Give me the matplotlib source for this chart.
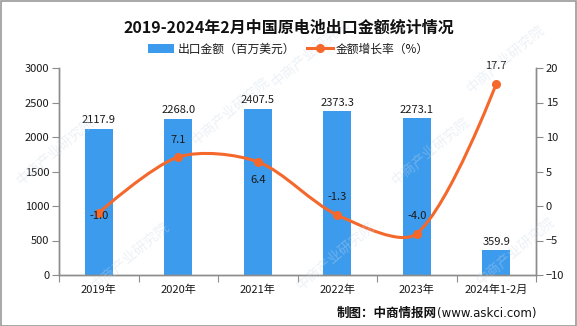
import numpy as np
import matplotlib
matplotlib.use("Agg")
import matplotlib.pyplot as plt
from matplotlib.path import Path
from matplotlib.patches import PathPatch, Patch, Rectangle
from matplotlib.lines import Line2D

plt.rcParams['font.family'] = ['Noto Sans CJK SC', 'DejaVu Sans']

# Data
categories = ["2019年", "2020年", "2021年", "2022年", "2023年", "2024年1-2月"]
export_value = [2117.9, 2268.0, 2407.5, 2373.3, 2273.1, 359.9]
growth_rate = [-1.0, 7.1, 6.4, -1.3, -4.0, 17.7]
left_ticks = [0, 500, 1000, 1500, 2000, 2500, 3000]
right_ticks = [-10, -5, 0, 5, 10, 15, 20]

title = "2019-2024年2月中国原电池出口金额统计情况"
bar_name = "出口金额（百万美元）"
line_name = "金额增长率（%）"
source = "制图：中商情报网"
source_url = "(www.askci.com)"
watermark = "中商产业研究院"

BLUE = "#3d9bed"
ORANGE = "#f5682c"
AXIS_GRAY = "#8c8c8c"
TEXT = "#1a1a1a"

W, H = 577, 326
fig = plt.figure(figsize=(W / 100, H / 100), dpi=100)
fig.patch.set_facecolor("white")

# figure border
fig.add_artist(Rectangle((0.5 / W, 0.5 / H), 1 - 1.5 / W, 1 - 1.5 / H,
                         transform=fig.transFigure, fill=False,
                         edgecolor="#9a9a9a", lw=1.2))

# faint watermark
for (wx, wy) in [(55, 150), (130, 255), (230, 110), (310, 52), (335, 255),
                 (430, 150), (505, 58), (515, 250)]:
    fig.text(wx / W, 1 - wy / H, watermark, rotation=40, fontsize=10,
             color="#c9d8e6", alpha=0.35, ha="center", va="center", zorder=0)

left, right, top, bottom = 59, 536, 68, 275
ax = fig.add_axes([left / W, 1 - bottom / H, (right - left) / W, (bottom - top) / H])
ax2 = ax.twinx()
ax.set_facecolor("none")

x = np.arange(len(categories))
ax.bar(x, export_value, width=0.35, color=BLUE, zorder=2)
ax.set_xlim(-0.5, len(categories) - 0.5)
ax.set_ylim(left_ticks[0], left_ticks[-1])
ax.set_yticks(left_ticks)
ax2.set_ylim(right_ticks[0], right_ticks[-1])
ax2.set_yticks(right_ticks)

for xi, v in zip(x, export_value):
    ax.annotate(f"{v:.1f}", (xi, v), xytext=(0, 2.5), textcoords="offset points",
                ha="center", va="bottom", fontsize=8, color=TEXT)

# x ticks on category boundaries, labels centered under bars
ax.set_xticks(np.arange(-0.5, len(categories), 1.0))
ax.set_xticklabels([])
ax.set_xticks(x, minor=True)
ax.set_xticklabels(categories, minor=True)
ax.tick_params(axis="x", which="major", direction="out", length=5, color=AXIS_GRAY)
ax.tick_params(axis="x", which="minor", length=0, pad=7, labelsize=8, labelcolor=TEXT)
ax.tick_params(axis="y", direction="out", length=5, color=AXIS_GRAY, pad=2,
               labelsize=8, labelcolor=TEXT)
ax2.tick_params(axis="y", direction="out", length=5, color=AXIS_GRAY, pad=2,
                labelsize=8, labelcolor=TEXT)

for a in (ax, ax2):
    a.spines["top"].set_visible(False)
    for sp in ("left", "right", "bottom"):
        a.spines[sp].set_color(AXIS_GRAY)
        a.spines[sp].set_linewidth(1.0)


def smooth_path(axis, xs, ys, s=0.3):
    """Bezier path through the points, control points built in display space."""
    pts = axis.transData.transform(np.column_stack([xs, ys]))
    n = len(pts)
    cp_next, cp_prev = [], []
    for i in range(n):
        p = pts[i]
        if i == 0 or i == n - 1:
            cp_next.append(p.copy())
            cp_prev.append(p.copy())
            continue
        prev, nxt = pts[i - 1], pts[i + 1]
        v = nxt - prev
        d0 = np.hypot(*(p - prev))
        d1 = np.hypot(*(nxt - p))
        r = d1 / (d0 + d1)
        cp_next.append(p + v * s * r)
        cp_prev.append(p - v * s * (1 - r))
    verts = [pts[0]]
    codes = [Path.MOVETO]
    for i in range(n - 1):
        verts += [cp_next[i], cp_prev[i + 1], pts[i + 1]]
        codes += [Path.CURVE4] * 3
    verts = axis.transData.inverted().transform(np.array(verts))
    return Path(verts, codes)


ax2.add_patch(PathPatch(smooth_path(ax2, x, growth_rate), fill=False,
                        edgecolor=ORANGE, lw=2.2, zorder=3, capstyle="round"))
ax2.plot(x, growth_rate, "o", color=ORANGE, ms=5.5, zorder=4)

# growth labels: (dx, dy) offsets in points
label_offsets = [(0, -2), (0, 12), (0, -13), (0, 13), (0, 13), (0, 13)]
for xi, v, (dx, dy) in zip(x, growth_rate, label_offsets):
    ax2.annotate(f"{v:.1f}", (xi, v), xytext=(dx, dy), textcoords="offset points",
                 ha="center", va="center", fontsize=8, color=TEXT, zorder=5)

fig.text(0.5, 1 - 28 / H, title, ha="center", va="center", fontsize=11.5,
         fontweight="bold", color="#111111")

handles = [Patch(facecolor=BLUE, edgecolor="none"),
           Line2D([0], [0], color=ORANGE, lw=2.2, marker="o", ms=5.5)]
fig.legend(handles, [bar_name, line_name], loc="center", ncol=2,
           bbox_to_anchor=(0.5, 1 - 49 / H), frameon=False, fontsize=8.5,
           handlelength=2.2, handleheight=0.8, handletextpad=0.3, columnspacing=1.0,
           labelcolor=TEXT)

fig.text(437 / W, 1 - 313 / H, source, ha="right", va="center", fontsize=9,
         fontweight="bold", color="#111111")
fig.text(437 / W, 1 - 313 / H, source_url, ha="left", va="center", fontsize=8.5,
         color="#111111", family=["Liberation Sans Narrow", "DejaVu Sans"])

fig.savefig("out.png", dpi=100, facecolor="white")
